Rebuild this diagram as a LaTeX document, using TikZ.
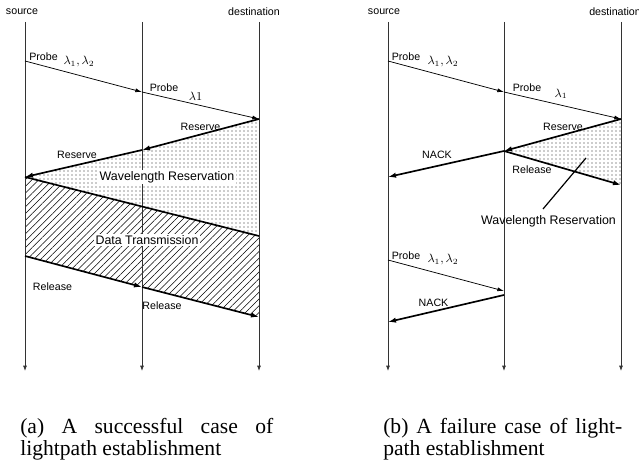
\documentclass[tikz,border=0pt]{standalone}
\usepackage{fontspec}
\setmainfont{Liberation Serif}
\newfontfamily\labfont{Liberation Sans}
\usetikzlibrary{arrows.meta,patterns.meta}
\begin{document}
\begin{tikzpicture}[x=0.75pt,y=-0.75pt,
  life/.style={draw=black!80,line width=0.6pt,-{Latex[length=4pt,width=3pt]}},
  thinarr/.style={draw=black,line width=0.55pt,-{Latex[length=5pt,width=3pt]}},
  thickarr/.style={draw=black,line width=1.25pt,-{Latex[length=6pt,width=4pt]}},
  thickline/.style={draw=black,line width=1.25pt},
  lbl/.style={inner sep=0pt,font=\labfont\fontsize{8}{9.6}\selectfont},
  biglbl/.style={inner sep=1pt,fill=white,font=\labfont\fontsize{9.3}{11}\selectfont},
  mth/.style={inner sep=0pt,font=\fontsize{9}{11}\selectfont},
  captext/.style={inner sep=0pt,anchor=base west,font=\fontsize{16.2}{16.5}\selectfont},
  dotfill/.style={pattern={Dots[distance=3pt,radius=0.45pt]},pattern color=black!85},
  hatchfill/.style={pattern={Lines[angle=45,distance=3.6pt,line width=0.4pt]},pattern color=black}
]
\useasboundingbox (0,0) rectangle (639,463);

% ---------- panel (a) ----------
\coordinate (aS) at (25,22);   \coordinate (aSb) at (25,371);
\coordinate (aM) at (142,22);  \coordinate (aMb) at (142,371);
\coordinate (aD) at (259,22);  \coordinate (aDb) at (259,371);

\coordinate (aP0) at (25,61);
\coordinate (aP1) at (142,92);
\coordinate (aP2) at (259,119);
\coordinate (aR1) at (142,150);
\coordinate (aR2) at (25,177);
\coordinate (aT1) at (259,236);
\coordinate (aL0) at (25,256);
\coordinate (aL1) at (142,287);
\coordinate (aL2) at (259,317);

\fill[dotfill] (aP2) -- (aR1) -- (aR2) -- (aT1) -- cycle;
\fill[hatchfill] (aR2) -- (aT1) -- (aL2) -- (aL0) -- cycle;

\draw[life] (aS) -- (aSb);
\draw[life] (aM) -- (aMb);
\draw[life] (aD) -- (aDb);

\draw[thinarr] (aP0) -- (aP1);
\draw[thinarr] (aP1) -- (aP2);
\draw[thickarr] (aP2) -- (aR1);
\draw[thickarr] (aR1) -- (aR2);
\draw[thickline] (aR2) -- (aT1);
\draw[thickarr] (aL0) -- (aL1);
\draw[thickarr] (aL1) -- (aL2);

\node[lbl] (asrc) at (22,12) {source};
\node[lbl] (adst) at (254,12) {destination};
\node[lbl] (ap1) at (43.5,57) {Probe};
\node[mth] (al1) at (79,62) {$\lambda_1,\lambda_2$};
\node[lbl] (ap2) at (164,88) {Probe};
\node[mth] (al2) at (195.5,96) {$\lambda1$};
\node[lbl] (ar1) at (200.5,127) {Reserve};
\node[lbl] (ar2) at (77,155) {Reserve};
\node[biglbl] (awr) at (167,177) {Wavelength Reservation};
\node[biglbl] (adt) at (147,240) {Data Transmission};
\node[lbl] (arl1) at (52.5,287) {Release};
\node[lbl] (arl2) at (162,306) {Release};

\node[captext] (acap1) at (20,433) {\makebox[189.75pt][s]{(a) A successful case of}};
\node[captext] (acap2) at (20,455) {lightpath establishment};

% ---------- panel (b) ----------
\coordinate (bS) at (388,22);  \coordinate (bSb) at (388,371);
\coordinate (bM) at (504,22);  \coordinate (bMb) at (504,371);
\coordinate (bD) at (621,22);  \coordinate (bDb) at (621,371);

\coordinate (bP0) at (388,61);
\coordinate (bP1) at (504,92);
\coordinate (bP2) at (621,119);
\coordinate (bR1) at (504,151);
\coordinate (bN1) at (388,177);
\coordinate (bL2) at (621,185);
\coordinate (bQ0) at (388,260);
\coordinate (bQ1) at (504,291);
\coordinate (bQ2) at (504,295);
\coordinate (bN2) at (388,322);
\coordinate (bW0) at (586,158);
\coordinate (bW1) at (543,209);

\fill[dotfill] (bP2) -- (bR1) -- (bL2) -- cycle;

\draw[life] (bS) -- (bSb);
\draw[life] (bM) -- (bMb);
\draw[life] (bD) -- (bDb);

\draw[thinarr] (bP0) -- (bP1);
\draw[thinarr] (bP1) -- (bP2);
\draw[thickarr] (bP2) -- (bR1);
\draw[thickarr] (bR1) -- (bN1);
\draw[thickarr] (bR1) -- (bL2);
\draw[thinarr] (bQ0) -- (bQ1);
\draw[thickarr] (bQ2) -- (bN2);
\draw[draw=black,line width=0.9pt] (bW0) -- (bW1);

\node[lbl] (bsrc) at (384,12) {source};
\node[lbl,anchor=west] (bdst) at (589,12) {destination};
\node[lbl] (bp1) at (406,57) {Probe};
\node[mth] (bl1) at (443,62) {$\lambda_1,\lambda_2$};
\node[lbl] (bp2) at (527,88) {Probe};
\node[mth] (bl2) at (561,94) {$\lambda_1$};
\node[lbl] (br1) at (563,127) {Reserve};
\node[lbl] (bn1) at (437,155) {NACK};
\node[lbl] (brl) at (532,170) {Release};
\node[inner sep=0pt,font=\labfont\fontsize{9.3}{11}\selectfont] (bwr) at (548.5,221) {Wavelength Reservation};
\node[lbl] (bp3) at (406,256) {Probe};
\node[mth] (bl3) at (443,260) {$\lambda_1,\lambda_2$};
\node[lbl] (bn2) at (433.5,303) {NACK};

\node[captext] (bcap1) at (383,433) {\makebox[179.25pt][s]{(b) A failure case of light-}};
\node[captext] (bcap2) at (383,455) {path establishment};
\end{tikzpicture}
\end{document}
